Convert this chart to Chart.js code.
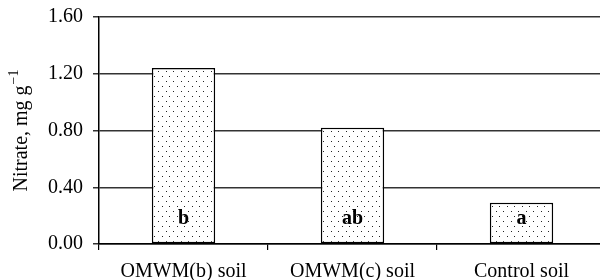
<!DOCTYPE html>
<html>
<head>
<meta charset="utf-8">
<script src="https://cdn.jsdelivr.net/npm/chart.js@4/dist/chart.umd.min.js"></script>
<style>
html,body{margin:0;padding:0;background:#fff;overflow:hidden;}
#wrap{width:606px;height:280px;}
</style>
</head>
<body>
<div id="wrap"><canvas id="c" width="606" height="280"></canvas></div>
<script>
const categories = ['OMWM(b) soil', 'OMWM(c) soil', 'Control soil'];
const nitrate = [1.24, 0.82, 0.29];
const letters = ['b', 'ab', 'a'];
const yTickLabels = ['0.00', '0.40', '0.80', '1.20', '1.60'];
const yTitleMain = 'Nitrate, mg g';
const yTitleSup = '\u22121';

const FONT = '"Liberation Serif", "Times New Roman", serif';

function makePattern() {
  const t = document.createElement('canvas');
  t.width = 15; t.height = 10;
  const g = t.getContext('2d');
  g.fillStyle = '#fff';
  g.fillRect(0, 0, 15, 10);
  g.fillStyle = '#222';
  [[1,1],[8,1],[4,6],[12,6]].forEach(p => g.fillRect(p[0], p[1], 1, 1));
  return document.getElementById('c').getContext('2d').createPattern(t, 'repeat');
}

const letterPlugin = {
  id: 'letters',
  afterDatasetsDraw(chart) {
    const ctx = chart.ctx;
    const meta = chart.getDatasetMeta(0);
    ctx.save();
    ctx.font = 'bold 20px ' + FONT;
    ctx.fillStyle = '#000';
    ctx.textAlign = 'center';
    ctx.textBaseline = 'alphabetic';
    meta.data.forEach((bar, i) => {
      ctx.fillText(letters[i], bar.x, bar.base - 19);
    });
    ctx.restore();
  }
};

const titlePlugin = {
  id: 'ytitle',
  afterDraw(chart) {
    const ctx = chart.ctx;
    const area = chart.chartArea;
    ctx.save();
    ctx.translate(27, (area.top + area.bottom) / 2);
    ctx.rotate(-Math.PI / 2);
    ctx.fillStyle = '#000';
    ctx.textBaseline = 'alphabetic';
    ctx.textAlign = 'left';
    ctx.font = '20px ' + FONT;
    const w1 = ctx.measureText(yTitleMain).width;
    ctx.font = '14px ' + FONT;
    const w2 = ctx.measureText(yTitleSup).width;
    const start = -(w1 + w2 + 1) / 2;
    ctx.font = '20px ' + FONT;
    ctx.fillText(yTitleMain, start, 0);
    ctx.font = '14px ' + FONT;
    ctx.fillText(yTitleSup, start + w1 + 1, -9);
    ctx.restore();
  }
};

new Chart(document.getElementById('c'), {
  type: 'bar',
  data: {
    labels: categories,
    datasets: [{
      data: nitrate,
      backgroundColor: makePattern(),
      borderColor: '#000',
      borderWidth: 1.5,
      borderSkipped: false,
      barPercentage: 0.375,
      categoryPercentage: 1.0
    }]
  },
  options: {
    responsive: false,
    animation: false,
    devicePixelRatio: 1,
    layout: { padding: { top: 17, right: 0, left: 0, bottom: 0 } },
    plugins: { legend: { display: false }, tooltip: { enabled: false } },
    scales: {
      x: {
        afterFit(s) { s.height = 36; s.paddingLeft = 0; s.paddingRight = 0; },
        grid: { offset: true, drawOnChartArea: false, drawTicks: true, tickLength: 6, color: '#000', lineWidth: 1.2 },
        border: { display: true, color: '#000', width: 1.5 },
        ticks: { color: '#000', padding: 10, font: { family: FONT, size: 20 }, maxRotation: 0, autoSkip: false }
      },
      y: {
        min: 0, max: 1.6,
        afterFit(s) { s.width = 99; s.paddingTop = 0; s.paddingBottom = 0; },
        ticks: {
          stepSize: 0.4,
          color: '#000',
          padding: 10,
          font: { family: FONT, size: 20 },
          callback: (v, i) => yTickLabels[i]
        },
        grid: { color: '#333', lineWidth: 1.5, tickLength: 6, drawTicks: true },
        border: { display: true, color: '#000', width: 1.5 }
      }
    }
  },
  plugins: [letterPlugin, titlePlugin]
});
</script>
</body>
</html>
